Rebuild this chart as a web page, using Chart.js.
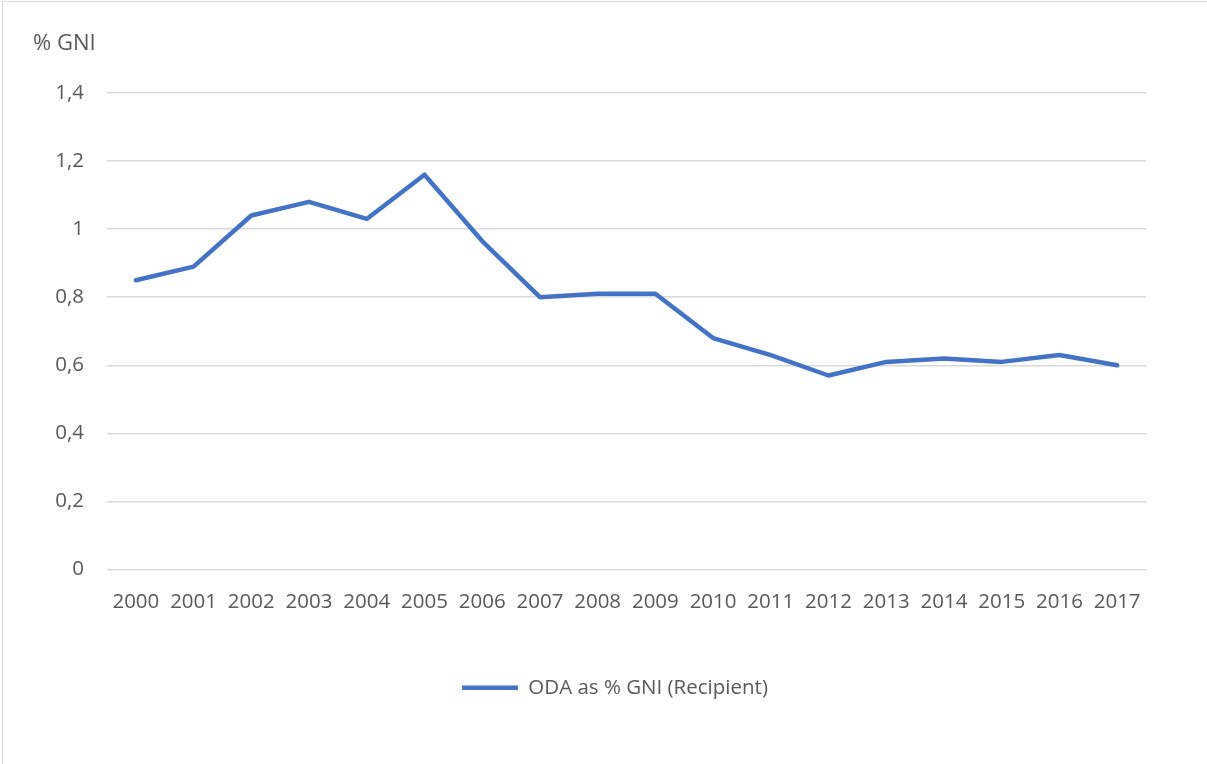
<!DOCTYPE html>
<html>
<head>
<meta charset="utf-8">
<script src="https://cdn.jsdelivr.net/npm/chart.js@4"></script>
<style>
  html, body { margin: 0; padding: 0; background: #fff; overflow: hidden; }
  #wrap { position: relative; width: 1207px; height: 764px; }
  #frame { position: absolute; left: 2px; top: 1px; width: 1400px; height: 900px; border: 1px solid #d9d9d9; pointer-events: none; }
  canvas { position: absolute; left: 0; top: 0; }
</style>
</head>
<body>
<div id="wrap">
  <canvas id="c" width="1207" height="764"></canvas>
  <div id="frame"></div>
</div>
<script>
const years = ['2000','2001','2002','2003','2004','2005','2006','2007','2008','2009','2010','2011','2012','2013','2014','2015','2016','2017'];
const odaValues = [0.85, 0.89, 1.04, 1.08, 1.03, 1.16, 0.965, 0.80, 0.81, 0.81, 0.68, 0.63, 0.57, 0.61, 0.62, 0.61, 0.63, 0.60];
const seriesName = 'ODA as % GNI (Recipient)';
const yAxisLabel = '% GNI';
const yTicks = [0, 0.2, 0.4, 0.6, 0.8, 1, 1.2, 1.4];

const FONT = '"Open Sans", "Liberation Sans", sans-serif';
const TEXT = '#595959';
const FS = 20.5;

const unitLabel = {
  id: 'unitLabel',
  afterLayout(chart) {
    // centre the legend under the full plot block (as in the reference)
    const lg = chart.legend;
    if (lg) { lg.left += 42; lg.right += 42; }
  },
  afterDraw(chart) {
    const ctx = chart.ctx;
    ctx.save();
    ctx.font = '22px ' + FONT;
    ctx.fillStyle = TEXT;
    ctx.textAlign = 'left';
    ctx.textBaseline = 'middle';
    ctx.fillText(yAxisLabel, 33, 44);
    ctx.restore();
  }
};

new Chart(document.getElementById('c'), {
  type: 'line',
  data: {
    labels: years,
    datasets: [{
      label: seriesName,
      data: odaValues,
      borderColor: '#4472C4',
      backgroundColor: '#4472C4',
      borderWidth: 4.5,
      borderCapStyle: 'round',
      borderJoinStyle: 'round',
      pointRadius: 0,
      pointHoverRadius: 0,
      tension: 0,
      fill: false
    }]
  },
  options: {
    responsive: false,
    animation: false,
    events: [],
    layout: { padding: { left: 0, right: 61, top: 93, bottom: 56 } },
    plugins: {
      legend: {
        position: 'bottom',
        labels: {
          font: { family: FONT, size: FS },
          color: TEXT,
          usePointStyle: true,
          pointStyle: 'line',
          pointStyleWidth: 56,
          boxWidth: 56,
          boxHeight: 17,
          padding: 4
        }
      },
      tooltip: { enabled: false },
      title: { display: false }
    },
    scales: {
      x: {
        offset: true,
        grid: { display: false, drawTicks: false },
        border: { display: false },
        ticks: { font: { family: FONT, size: FS }, color: TEXT, padding: 20, maxRotation: 0, autoSkip: false },
        afterFit(scale) { scale.height = 104; }
      },
      y: {
        min: 0,
        max: 1.4,
        afterBuildTicks(scale) { scale.ticks = yTicks.map(v => ({ value: v })); },
        grid: { color: '#d9d9d9', lineWidth: 1.5, drawTicks: false },
        border: { display: false },
        ticks: {
          font: { family: FONT, size: FS },
          color: TEXT,
          padding: 23,
          callback: (v) => String(Math.round(v * 10) / 10).replace('.', ',')
        },
        afterFit(scale) { scale.width = 107; }
      }
    }
  },
  plugins: [unitLabel]
});
</script>
</body>
</html>
